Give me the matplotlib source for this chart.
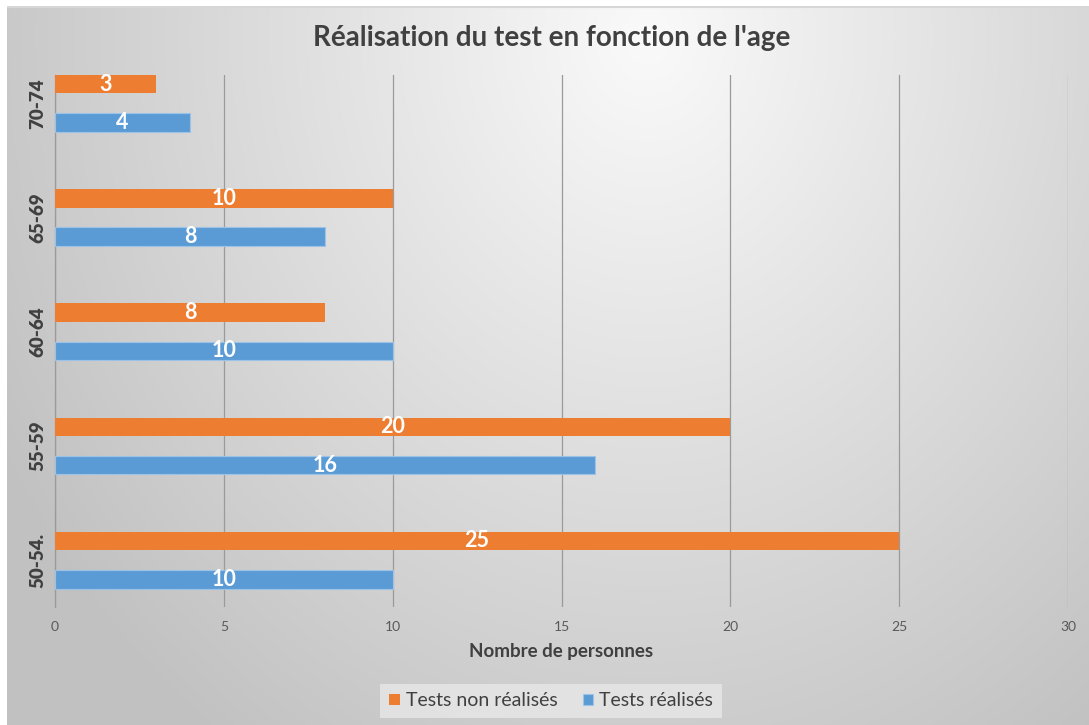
import numpy as np
import matplotlib
matplotlib.use("Agg")
import matplotlib.pyplot as plt

categories = ['50-54.', '55-59', '60-64', '65-69', '70-74']
tests_realises = [10, 16, 10, 8, 4]
tests_non_realises = [25, 20, 8, 10, 3]
x_ticks = [0, 5, 10, 15, 20, 25, 30]

title = "Réalisation du test en fonction de l'age"
xlabel = "Nombre de personnes"
label_non = "Tests non réalisés"
label_oui = "Tests réalisés"

ORANGE = '#ED7D31'
BLUE = '#5B9BD5'
FONT = ['Lato', 'DejaVu Sans']
plt.rcParams['font.family'] = FONT

W, H = 1089, 725
fig = plt.figure(figsize=(W / 100, H / 100), dpi=100)
fig.patch.set_facecolor('white')

# background radial gradient
bx0, by0 = 7, 6
bg = fig.add_axes([bx0 / W, 0, 1 - bx0 / W, 1 - by0 / H], zorder=-10)
gw, gh = W - bx0, H - by0
yy, xx = np.mgrid[0:gh, 0:gw]
cx, cy = 640, 30
d = np.sqrt(((xx - cx) / 700.0) ** 2 + ((yy - cy) / 820.0) ** 2)
g = np.clip(0.98 - 0.21 * d, 0.76, 1.0)
bg.imshow(np.dstack([g, g, g]), aspect='auto', interpolation='bilinear')
bg.axhline(0, color='#d6d6d6', lw=1.5)
bg.set_axis_off()

# main axes
left, right = 55 / W, 1068 / W
bottom, top = 1 - 607 / H, 1 - 75 / H
ax = fig.add_axes([left, bottom, right - left, top - bottom])
ax.patch.set_alpha(0)

y = np.arange(len(categories))
off = 0.168
hgt = 0.162
b_oui = ax.barh(y - off, tests_realises, height=hgt, color=BLUE,
                edgecolor='#9cc3e6', linewidth=0.8, label=label_oui, zorder=3)
b_non = ax.barh(y + off, tests_non_realises, height=hgt, color=ORANGE,
                label=label_non, zorder=3)

for bars in (b_oui, b_non):
    ax.bar_label(bars, label_type='center', color='white', fontsize=15.5,
                 fontweight='bold', family=FONT)

ax.set_xlim(0, 30)
ax.set_ylim(-0.41, 4.248)
ax.set_xticks(x_ticks)
ax.set_xticklabels([str(v) for v in x_ticks], color='#595959', fontsize=10)
ax.set_yticks(y)
ax.set_yticklabels(categories, rotation=90, va='center', fontweight='heavy',
                   fontsize=13.5, color='#404040')
ax.tick_params(axis='both', length=0)
ax.tick_params(axis='x', pad=10)
ax.tick_params(axis='y', pad=6)
ax.grid(axis='x', color='#9a9a9a', linewidth=0.9, zorder=0)
ax.grid(axis='y', visible=False)
for s in ['top', 'right', 'bottom']:
    ax.spines[s].set_visible(False)
ax.spines['left'].set_color('#9a9a9a')
ax.spines['left'].set_linewidth(0.9)

ax.set_xlabel(xlabel, fontsize=13.5, fontweight='bold', color='#404040', labelpad=7)

fig.text(552 / W, 1 - 38 / H, title, ha='center', va='center', fontsize=20,
         fontweight='bold', color='#404040')

leg = fig.legend(handles=[b_non, b_oui], labels=[label_non, label_oui],
                 loc='center', bbox_to_anchor=(551 / W, 1 - 701 / H), ncol=2,
                 fontsize=14, frameon=True, handlelength=0.55, handleheight=0.55,
                 handletextpad=0.3, columnspacing=1.3, borderpad=0.45,
                 fancybox=False)
leg.get_frame().set_facecolor('#e8e8e8')
leg.get_frame().set_alpha(0.8)
leg.get_frame().set_edgecolor('none')
for t in leg.get_texts():
    t.set_color('#404040')

fig.savefig('out.png', dpi=100)
